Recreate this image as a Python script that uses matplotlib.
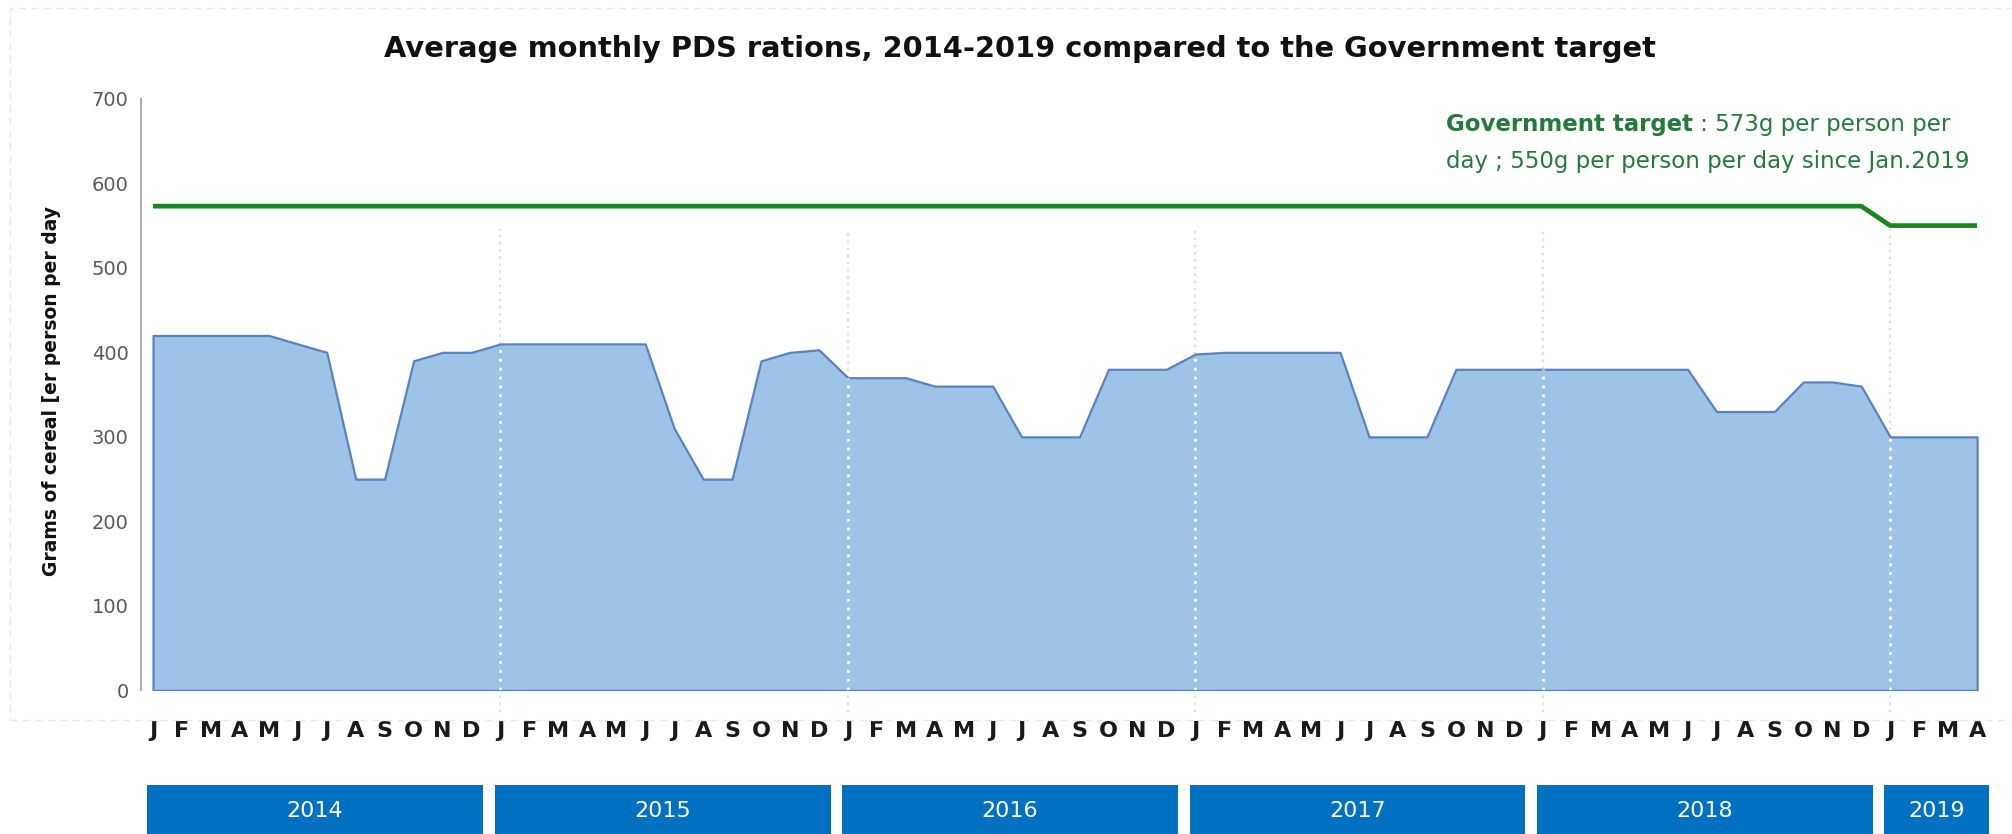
import matplotlib

matplotlib.use("Agg")
import matplotlib.pyplot as plt
from matplotlib.patches import Rectangle
from matplotlib.transforms import blended_transform_factory

plt.rcParams["font.family"] = ["DejaVu Sans"]

# Monthly PDS ration (g per person per day), Jan 2014 - Apr 2019
rations_2014 = [420, 420, 420, 420, 420, 410, 400, 250, 250, 390, 400, 400]
rations_2015 = [410, 410, 410, 410, 410, 410, 310, 250, 250, 390, 400, 403]
rations_2016 = [370, 370, 370, 360, 360, 360, 300, 300, 300, 380, 380, 380]
rations_2017 = [398, 400, 400, 400, 400, 400, 300, 300, 300, 380, 380, 380]
rations_2018 = [380, 380, 380, 380, 380, 380, 330, 330, 330, 365, 365, 360]
rations_2019 = [300, 300, 300, 300]
target_2014_2018 = 573
target_2019 = 550

years = ["2014", "2015", "2016", "2017", "2018", "2019"]
month_letters = ["J", "F", "M", "A", "M", "J", "J", "A", "S", "O", "N", "D"]
yticks = [0, 100, 200, 300, 400, 500, 600, 700]

rations = rations_2014 + rations_2015 + rations_2016 + rations_2017 + rations_2018 + rations_2019
n_months = len(rations)
x = list(range(n_months))
target = [target_2014_2018] * 60 + [target_2019] * (n_months - 60)
months = [month_letters[i % 12] for i in x]
year_lengths = [12, 12, 12, 12, 12, 4]

fig = plt.figure(figsize=(20.12, 8.34), dpi=100)
ax = fig.add_axes([0.0701, 0.1722, 0.917, 0.7093])

# area of rations
ax.fill_between(x, 0, rations, facecolor="#9dc3e6", edgecolor="#5b82c0", linewidth=1.6, zorder=2)

# government target line
ax.plot(x, target, color="#17891a", linewidth=3.4, solid_capstyle="butt", zorder=4)

# year dividers
for i in range(12, n_months, 12):
    ax.plot([i, i], [rations[i], 546], color="#dcdcdc", linestyle=(0, (1, 2.2)), linewidth=1.6, zorder=1)
    ax.plot([i, i], [-26, 0], color="#dcdcdc", linestyle=(0, (1, 2.2)), linewidth=1.6, zorder=1, clip_on=False)
    ax.plot([i, i], [0, rations[i]], color="white", linestyle=(0, (1, 2.2)), linewidth=2.0, zorder=3)

ax.set_xlim(-0.414, 63.31)
ax.set_ylim(0, 700)
ax.set_yticks(yticks)
ax.set_xticks([])
ax.tick_params(axis="y", length=0, pad=9, labelsize=14, labelcolor="#595959")
for side in ["top", "right", "bottom"]:
    ax.spines[side].set_visible(False)
ax.spines["left"].set_color("#b0b0b0")
ax.spines["left"].set_linewidth(1.5)

# month letters and year boxes under the axis
trans = blended_transform_factory(ax.transData, fig.transFigure)
for i, m in zip(x, months):
    ax.text(i, 0.1235, m, transform=trans, ha="center", va="center", fontsize=16, fontweight="bold",
            color="#1a1a1a")

start = 0
for year, n in zip(years, year_lengths):
    left = start - 0.2
    right = start + n - 0.6
    ax.add_patch(Rectangle((left, 0), right - left, 0.0588, transform=trans, facecolor="#0070c0",
                           edgecolor="none", clip_on=False))
    ax.text((left + right) / 2, 0.0276, year, transform=trans, ha="center", va="center", fontsize=16,
            color="white")
    start += n

# faint chart border
fig.add_artist(Rectangle((0.005, 0.137), 1.2, 0.853, transform=fig.transFigure, fill=False,
                         edgecolor="#e8e8e8", linestyle=(0, (5, 4)), linewidth=1.0))

fig.text(0.507, 0.941, "Average monthly PDS rations, 2014-2019 compared to the Government target",
         ha="center", va="center", fontsize=20.8, fontweight="bold", color="#111111")
fig.text(0.0255, 0.531, "Grams of cereal [er person per day", rotation=90, ha="center", va="center",
         fontsize=13.5, fontweight="bold", color="#111111")

green_text = "#237a3b"
bold_part = fig.text(0.7187, 0.851, "Government target", ha="left", va="center", fontsize=16.5,
                     fontweight="bold", color=green_text)
fig.canvas.draw()
bb = bold_part.get_window_extent(renderer=fig.canvas.get_renderer())
x_after = bb.x1 / fig.bbox.width
fig.text(x_after, 0.851, " : 573g per person per", ha="left", va="center", fontsize=16.5, color=green_text)
fig.text(0.7187, 0.806, "day ; 550g per person per day since Jan.2019", ha="left", va="center",
         fontsize=16.5, color=green_text)

fig.savefig("out.png", dpi=100)
